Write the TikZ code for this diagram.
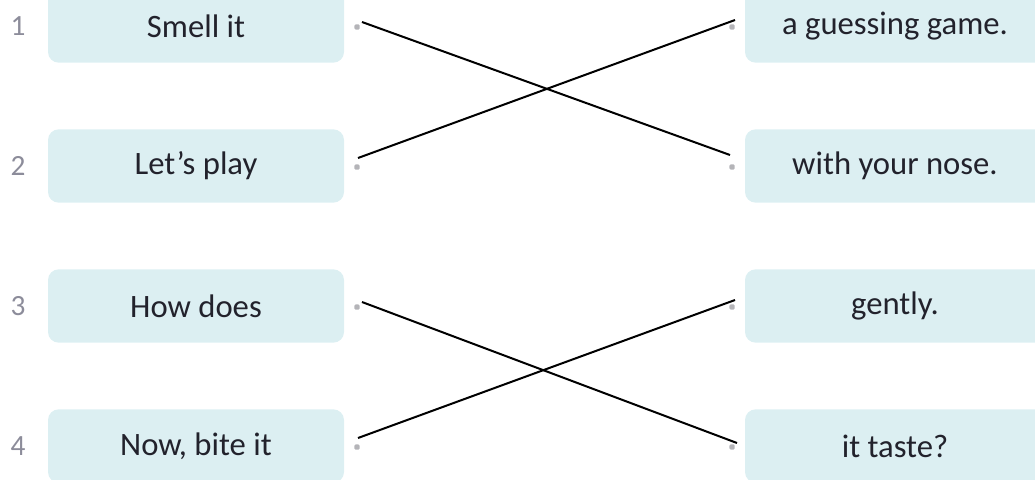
\documentclass[tikz,border=0pt]{standalone}
\usepackage{fontspec}
\setmainfont{Carlito}
\begin{document}
\begin{tikzpicture}[x=0.75pt,y=-0.75pt]
    \newcommand{\yStep}[0]{140}
    \newcommand{\lX}[0]{196}
    \newcommand{\rX}[0]{895}
    \definecolor{boxfill}{HTML}{DCEFF2}
    \definecolor{numgray}{HTML}{8C8C9A}
    \definecolor{dotgray}{HTML}{B4B4B8}
    \definecolor{txt}{HTML}{22222C}

    \tikzstyle{cedge} = [line width=1.5pt,draw=black]

    \tikzstyle{box}=[
      rectangle,
      rounded corners=8pt,
      fill=boxfill,
      anchor=center,
      minimum width=222pt,
      minimum height=55pt,
      text=txt,
      font=\fontsize{24.5}{28}\selectfont,
    ]
    \tikzstyle{rbox}=[box, minimum width=225pt]
    \tikzstyle{num}=[text=numgray, font=\fontsize{22}{26}\selectfont]
    \tikzstyle{dot}=[rectangle, rounded corners=1pt, fill=dotgray, inner sep=0pt, minimum size=4pt]

    \useasboundingbox (0,0) rectangle (1035,479);
    \clip (0,0) rectangle (1035,479);

    % left column
    \node[num] (k1) at (18,26+0*\yStep) {1};
    \node[num] (k2) at (18,26+1*\yStep) {2};
    \node[num] (k3) at (18,26+2*\yStep) {3};
    \node[num] (k4) at (18,26+3*\yStep) {4};

    \node[box] (l1) at (\lX,26+0*\yStep) {Smell it};
    \node[box] (l2) at (\lX,26+1*\yStep) {Let’s play};
    \node[box] (l3) at (\lX,26+2*\yStep) {How does};
    \node[box] (l4) at (\lX,26+3*\yStep) {Now, bite it};

    % right column
    \node[rbox] (r1) at (\rX,26+0*\yStep) {a guessing game.};
    \node[rbox] (r2) at (\rX,26+1*\yStep) {with your nose.};
    \node[rbox] (r3) at (\rX,26+2*\yStep) {gently.};
    \node[rbox] (r4) at (\rX,26+3*\yStep) {it taste?};

    % dots
    \node[dot] (dl1) at (357,27+0*\yStep) {};
    \node[dot] (dl2) at (357,27+1*\yStep) {};
    \node[dot] (dl3) at (357,27+2*\yStep) {};
    \node[dot] (dl4) at (357,27+3*\yStep) {};
    \node[dot] (dr1) at (732,27+0*\yStep) {};
    \node[dot] (dr2) at (732,27+1*\yStep) {};
    \node[dot] (dr3) at (732,27+2*\yStep) {};
    \node[dot] (dr4) at (732,27+3*\yStep) {};

    \coordinate (sl1) at ([shift={(5,-5)}]dl1);
    \coordinate (sl2) at ([shift={(1,-9)}]dl2);
    \coordinate (sl3) at ([shift={(5,-5)}]dl3);
    \coordinate (sl4) at ([shift={(1,-9)}]dl4);
    \coordinate (sr1) at ([shift={(3,-7)}]dr1);
    \coordinate (sr2) at ([shift={(-2,-12)}]dr2);
    \coordinate (sr3) at ([shift={(3,-7)}]dr3);
    \coordinate (sr4) at ([shift={(5,-4)}]dr4);

    \draw[cedge] (sl1)--(sr2);
    \draw[cedge] (sl2)--(sr1);
    \draw[cedge] (sl3)--(sr4);
    \draw[cedge] (sl4)--(sr3);
  \end{tikzpicture}
\end{document}
